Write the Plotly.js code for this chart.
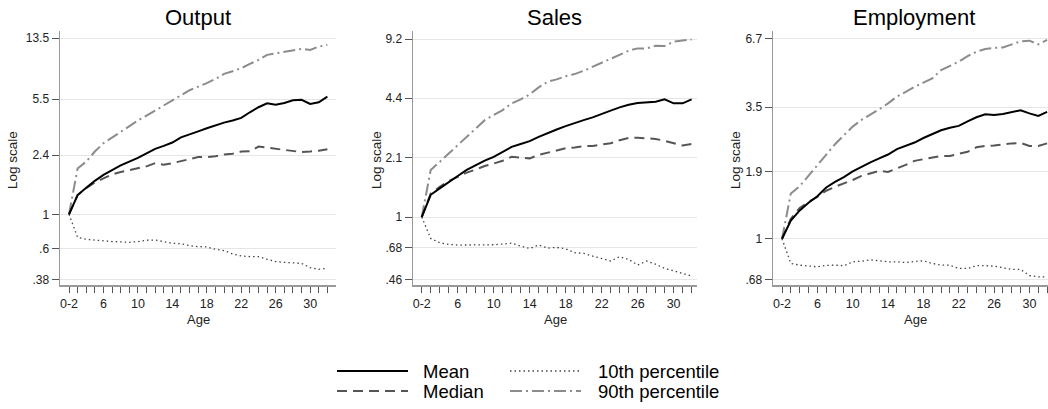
<!DOCTYPE html>
<html><head><meta charset="utf-8">
<script src="https://cdn.plot.ly/plotly-3.0.1.min.js"></script>
<style>html,body{margin:0;padding:0;background:#fff;overflow:hidden}#chart{width:1048px;height:409px}</style>
</head><body><div id="chart"></div>
<script>
// ---------- data ----------
const ages = [2,3,4,5,6,7,8,9,10,11,12,13,14,15,16,17,18,19,20,21,22,23,24,25,26,27,28,29,30,31,32];
const xTickText = ['0-2','','','','6','','','','10','','','','14','','','','18','','','','22','','','','26','','','','30','',''];

const panelTitles = ['Output','Sales','Employment'];
const xAxisTitle = 'Age';
const yAxisTitle = 'Log scale';

const outputMean   = [1,1.33,1.48,1.64,1.79,1.93,2.06,2.18,2.30,2.46,2.63,2.75,2.89,3.12,3.28,3.41,3.57,3.73,3.88,4.00,4.16,4.52,4.87,5.16,5.06,5.19,5.40,5.43,5.11,5.24,5.70];
const outputMedian = [1,1.33,1.47,1.60,1.70,1.80,1.87,1.92,1.97,2.03,2.13,2.08,2.13,2.19,2.27,2.33,2.33,2.36,2.42,2.45,2.53,2.54,2.72,2.68,2.64,2.59,2.54,2.51,2.53,2.56,2.62];
const outputP10    = [1,0.711,0.691,0.681,0.671,0.668,0.665,0.661,0.668,0.681,0.684,0.668,0.651,0.648,0.629,0.620,0.617,0.596,0.585,0.556,0.540,0.535,0.535,0.514,0.497,0.491,0.489,0.484,0.454,0.443,0.450];
const outputP90    = [1,1.97,2.18,2.53,2.86,3.12,3.40,3.69,4.00,4.30,4.63,5.02,5.37,5.84,6.26,6.61,6.95,7.40,7.97,8.29,8.67,9.24,9.80,10.56,10.82,11.03,11.37,11.54,11.37,11.94,12.24];

const salesMean    = [1,1.32,1.43,1.55,1.67,1.80,1.91,2.02,2.12,2.26,2.40,2.49,2.58,2.72,2.86,2.98,3.11,3.24,3.35,3.47,3.60,3.77,3.93,4.06,4.15,4.20,4.22,4.34,4.13,4.13,4.34];
const salesMedian  = [1,1.34,1.46,1.57,1.65,1.74,1.81,1.89,1.95,2.02,2.12,2.10,2.08,2.17,2.23,2.31,2.36,2.38,2.42,2.43,2.48,2.51,2.61,2.68,2.69,2.68,2.65,2.59,2.51,2.44,2.49];
const salesP10     = [1,0.766,0.726,0.711,0.705,0.705,0.711,0.708,0.708,0.714,0.723,0.696,0.676,0.705,0.679,0.685,0.673,0.641,0.636,0.615,0.595,0.578,0.610,0.590,0.550,0.578,0.556,0.527,0.512,0.495,0.479];
const salesP90     = [1,1.80,1.99,2.21,2.45,2.72,3.02,3.35,3.57,3.80,4.13,4.34,4.62,5.04,5.41,5.57,5.80,5.95,6.20,6.52,6.85,7.24,7.55,7.96,8.20,8.20,8.47,8.45,8.91,9.02,9.17];

const emplMean     = [1,1.19,1.31,1.41,1.50,1.63,1.72,1.80,1.90,1.99,2.07,2.15,2.23,2.35,2.43,2.50,2.61,2.71,2.81,2.88,2.93,3.06,3.18,3.27,3.25,3.28,3.33,3.40,3.30,3.22,3.35];
const emplMedian   = [1,1.21,1.34,1.42,1.49,1.58,1.64,1.69,1.75,1.82,1.87,1.91,1.89,1.95,2.02,2.10,2.13,2.16,2.20,2.20,2.24,2.29,2.39,2.42,2.43,2.46,2.48,2.49,2.42,2.42,2.48];
const emplP10      = [1,0.791,0.778,0.774,0.766,0.776,0.778,0.774,0.803,0.808,0.819,0.811,0.803,0.803,0.798,0.806,0.811,0.791,0.778,0.778,0.754,0.754,0.774,0.774,0.771,0.759,0.747,0.747,0.705,0.696,0.696];
const emplP90      = [1,1.54,1.65,1.82,2.02,2.22,2.46,2.68,2.91,3.10,3.25,3.43,3.63,3.87,4.05,4.25,4.42,4.60,4.98,5.18,5.40,5.69,5.93,6.09,6.16,6.18,6.36,6.55,6.59,6.36,6.64];

const outputTickVals = [0.38,0.6,1,2.4,5.5,13.5];
const outputTickText = ['.38','.6','1','2.4','5.5','13.5'];
const salesTickVals  = [0.46,0.68,1,2.1,4.4,9.2];
const salesTickText  = ['.46','.68','1','2.1','4.4','9.2'];
const emplTickVals   = [0.68,1,1.9,3.5,6.7];
const emplTickText   = ['.68','1','1.9','3.5','6.7'];

// ---------- layout helpers ----------
const W = 1048, H = 409;
const FONT = 'Liberation Sans, Arial, Helvetica, sans-serif';
const fx = v => v / W;
const fy = v => 1 - v / H;

const styles = {
  'Mean':            {color:'#000000', width:2,   dash:'solid'},
  'Median':          {color:'#555555', width:2,   dash:'10px,6px'},
  '10th percentile': {color:'#444444', width:1.3, dash:'1.5px,3px'},
  '90th percentile': {color:'#8c8c8c', width:2,   dash:'12px,4px,2px,4px'}
};

const panels = [
  {title:panelTitles[0], series:{'Mean':outputMean,'Median':outputMedian,'10th percentile':outputP10,'90th percentile':outputP90},
   tv:outputTickVals, tt:outputTickText, xd:[60,336], xr:[0.955,33.0], yr:[-0.454,1.177], tx:198, ytx:12, atx:198},
  {title:panelTitles[1], series:{'Mean':salesMean,'Median':salesMedian,'10th percentile':salesP10,'90th percentile':salesP90},
   tv:salesTickVals, tt:salesTickText, xd:[413,697], xr:[1.03,32.6], yr:[-0.368,1.008], tx:554, ytx:376, atx:555},
  {title:panelTitles[2], series:{'Mean':emplMean,'Median':emplMedian,'10th percentile':emplP10,'90th percentile':emplP90},
   tv:emplTickVals, tt:emplTickText, xd:[773,1048], xr:[0.98,32.1], yr:[-0.191,0.859], tx:914, ytx:735, atx:915}
];

const yDom = [fy(285), fy(31)];
const traces = [];
const layout = {
  width:W, height:H, margin:{l:0,r:0,t:0,b:0},
  paper_bgcolor:'#fff', plot_bgcolor:'#fff',
  showlegend:false, font:{family:FONT, color:'#222'},
  annotations:[], shapes:[]
};

const drawOrder = ['90th percentile','10th percentile','Median','Mean'];
panels.forEach((p,i) => {
  const s = i === 0 ? '' : String(i+1);
  drawOrder.forEach(name => {
    const st = styles[name];
    traces.push({type:'scatter', mode:'lines', name:name, x:ages, y:p.series[name],
      xaxis:'x'+s, yaxis:'y'+s, line:{color:st.color, width:st.width, dash:st.dash},
      hoverinfo:'skip', cliponaxis:true});
  });
  layout['xaxis'+s] = {domain:[fx(p.xd[0]), fx(p.xd[1])], range:p.xr, anchor:'y'+s,
    tickmode:'array', tickvals:ages, ticktext:xTickText, ticks:'outside', ticklen:6, tickwidth:1, tickcolor:'#555',
    showline:true, linecolor:'#9a9a9a', linewidth:1.5, showgrid:false, zeroline:false,
    tickfont:{size:12.5, color:'#222'}, fixedrange:true};
  layout['yaxis'+s] = {type:'log', domain:yDom, range:p.yr, anchor:'x'+s,
    tickmode:'array', tickvals:p.tv, ticktext:p.tt, ticks:'outside', ticklen:7, tickwidth:1, tickcolor:'#555',
    showline:true, linecolor:'#9a9a9a', linewidth:1.5, showgrid:true, gridcolor:'#e6e6e6', gridwidth:1, zeroline:false,
    tickfont:{size:12, color:'#222'}, fixedrange:true};
  layout.annotations.push({text:p.title, xref:'paper', yref:'paper', x:fx(p.tx), y:fy(17), xanchor:'center', yanchor:'middle',
    showarrow:false, font:{size:22, color:'#000', family:FONT}});
  layout.annotations.push({text:yAxisTitle, xref:'paper', yref:'paper', x:fx(p.ytx), y:fy(160), xanchor:'center', yanchor:'middle',
    textangle:-90, showarrow:false, font:{size:13.5, color:'#222', family:FONT}});
  layout.annotations.push({text:xAxisTitle, xref:'paper', yref:'paper', x:fx(p.atx), y:fy(319), xanchor:'center', yanchor:'middle',
    showarrow:false, font:{size:13, color:'#222', family:FONT}});
});

// ---------- legend (two columns) ----------
const legendItems = [
  {name:'Mean', x0:337, x1:408, tx:421, y:371},
  {name:'Median', x0:337, x1:408, tx:421, y:391},
  {name:'10th percentile', x0:510, x1:581, tx:596, y:371},
  {name:'90th percentile', x0:510, x1:581, tx:596, y:391}
];
legendItems.forEach(it => {
  const st = styles[it.name];
  layout.shapes.push({type:'line', xref:'paper', yref:'paper', x0:fx(it.x0), x1:fx(it.x1), y0:fy(it.y), y1:fy(it.y),
    line:{color:st.color, width:st.width, dash:st.dash}});
  layout.annotations.push({text:it.name, xref:'paper', yref:'paper', x:fx(it.tx), y:fy(it.y), xanchor:'left', yanchor:'middle',
    showarrow:false, font:{size:18.5, color:'#000', family:FONT}});
});

Plotly.newPlot('chart', traces, layout, {staticPlot:true, displayModeBar:false});
</script>
</body></html>
